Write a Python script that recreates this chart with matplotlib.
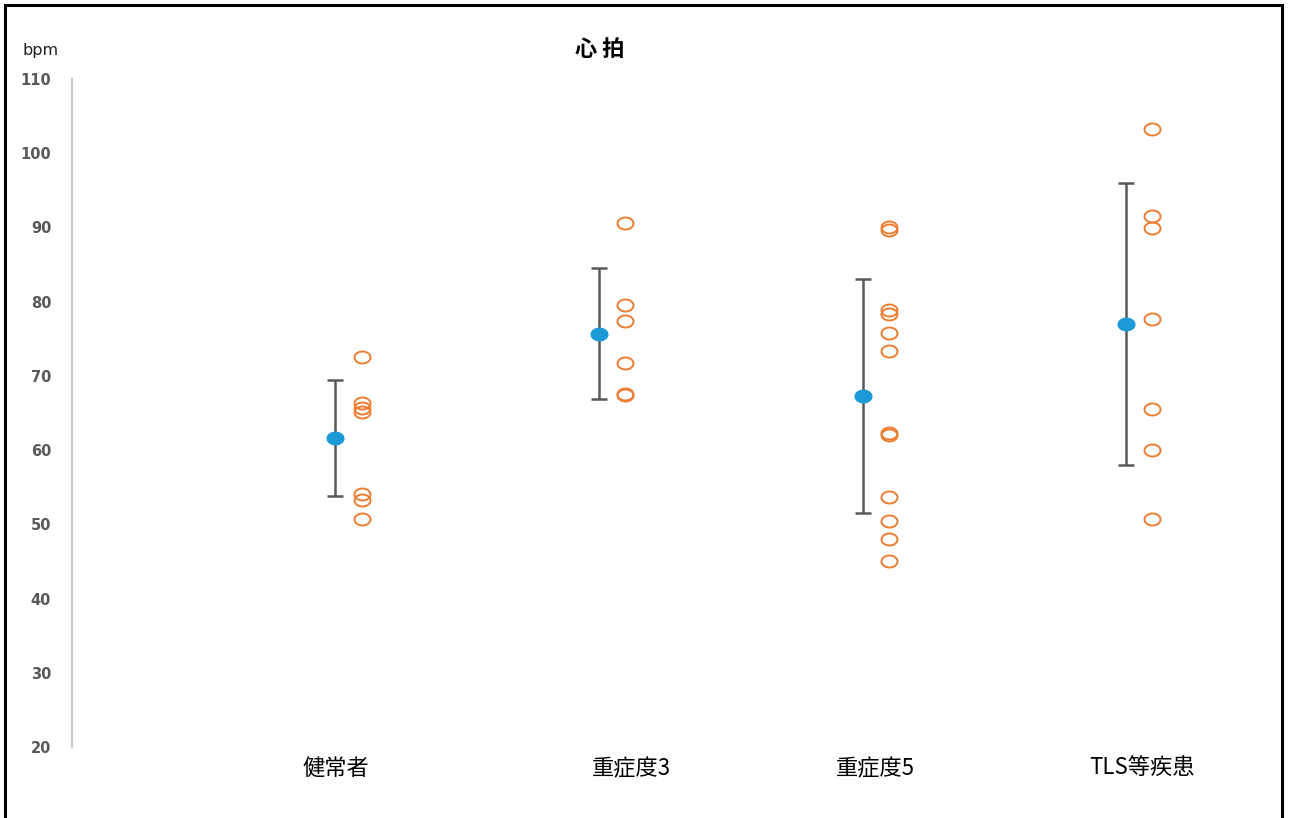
import matplotlib
matplotlib.use("Agg")
import matplotlib.pyplot as plt
from matplotlib.path import Path
from matplotlib.patches import Rectangle
import numpy as np

plt.rcParams['font.family'] = ['Noto Sans CJK JP', 'DejaVu Sans']

# Groups
categories = ["健常者", "重症度3", "重症度5", "TLS等疾患"]

# Group mean and standard deviation (bpm)
means = [61.6, 75.7, 67.3, 77.0]
sds = [7.8, 8.8, 15.8, 19.0]

# Individual heart-rate readings (bpm)
healthy = [72.5, 66.3, 65.7, 65.1, 54.1, 53.3, 50.7]
severity3 = [90.6, 79.6, 77.4, 71.7, 67.6, 67.4]
severity5 = [90.0, 89.7, 78.9, 78.4, 75.8, 73.3, 62.3, 62.0, 53.7, 50.4, 48.0, 45.1]
tls_etc = [103.3, 91.5, 89.9, 77.7, 65.5, 60.0, 50.7]
individuals = [healthy, severity3, severity5, tls_etc]

yticks = list(range(20, 111, 10))

BLUE = "#1C9AD6"
ORANGE = "#ED7D31"
GRAY = "#595959"

# slightly flattened circle used for all markers
t = np.linspace(0, 2 * np.pi, 65)
ellipse = Path(np.column_stack([np.cos(t), 0.75 * np.sin(t)]), closed=True)

fig = plt.figure(figsize=(12.9, 8.18), dpi=100)
ax = fig.add_axes([0.0558, 0.0868, 0.909, 0.8166])

xs = np.arange(len(categories))
ax.errorbar(xs, means, yerr=sds, fmt="none", ecolor=GRAY, elinewidth=1.8,
            capsize=5.5, capthick=1.8, zorder=2)
ax.plot(xs, means, linestyle="none", marker=ellipse, markersize=12,
        markerfacecolor=BLUE, markeredgecolor=BLUE, zorder=3)

for i, vals in enumerate(individuals):
    ax.plot(np.full(len(vals), i + 0.1), vals, linestyle="none",
            marker=ellipse, markersize=11.5, markerfacecolor="none",
            markeredgecolor=ORANGE, markeredgewidth=1.4, zorder=3)

ax.set_xlim(-1.0, 3.45)
ax.set_ylim(20, 110)
ax.set_yticks(yticks)
ax.set_yticklabels([str(v) for v in yticks], fontsize=10.5, fontweight="bold",
                   color=GRAY, family="DejaVu Sans")
ax.tick_params(axis="y", length=0, pad=15)
ax.set_xticks([])
for side in ("top", "right", "bottom"):
    ax.spines[side].set_visible(False)
ax.spines["left"].set_color("#C8C8C8")
ax.spines["left"].set_linewidth(1.5)

# category labels below the plot
label_x = [0.0, 1.125, 2.05, 3.06]
for lx, name in zip(label_x, categories):
    ax.text(lx, 17.1, name, ha="center", va="center", fontsize=16,
            color="black", clip_on=False)

fig.text(600 / 1290, 1 - 49 / 818, "心 拍", ha="center", va="center",
         fontsize=16, fontweight="bold", color="black")
fig.text(22 / 1290, 1 - 50 / 818, "bpm", ha="left", va="center",
         fontsize=11.5, color="#222222", family="DejaVu Sans")

# outer frame
fig.patches.append(Rectangle((5 / 1290, -0.05), (1282 - 5) / 1290, 1.05 - 5 / 818,
                             transform=fig.transFigure, fill=False,
                             edgecolor="black", linewidth=2.2))

fig.savefig("out.png", dpi=100)
